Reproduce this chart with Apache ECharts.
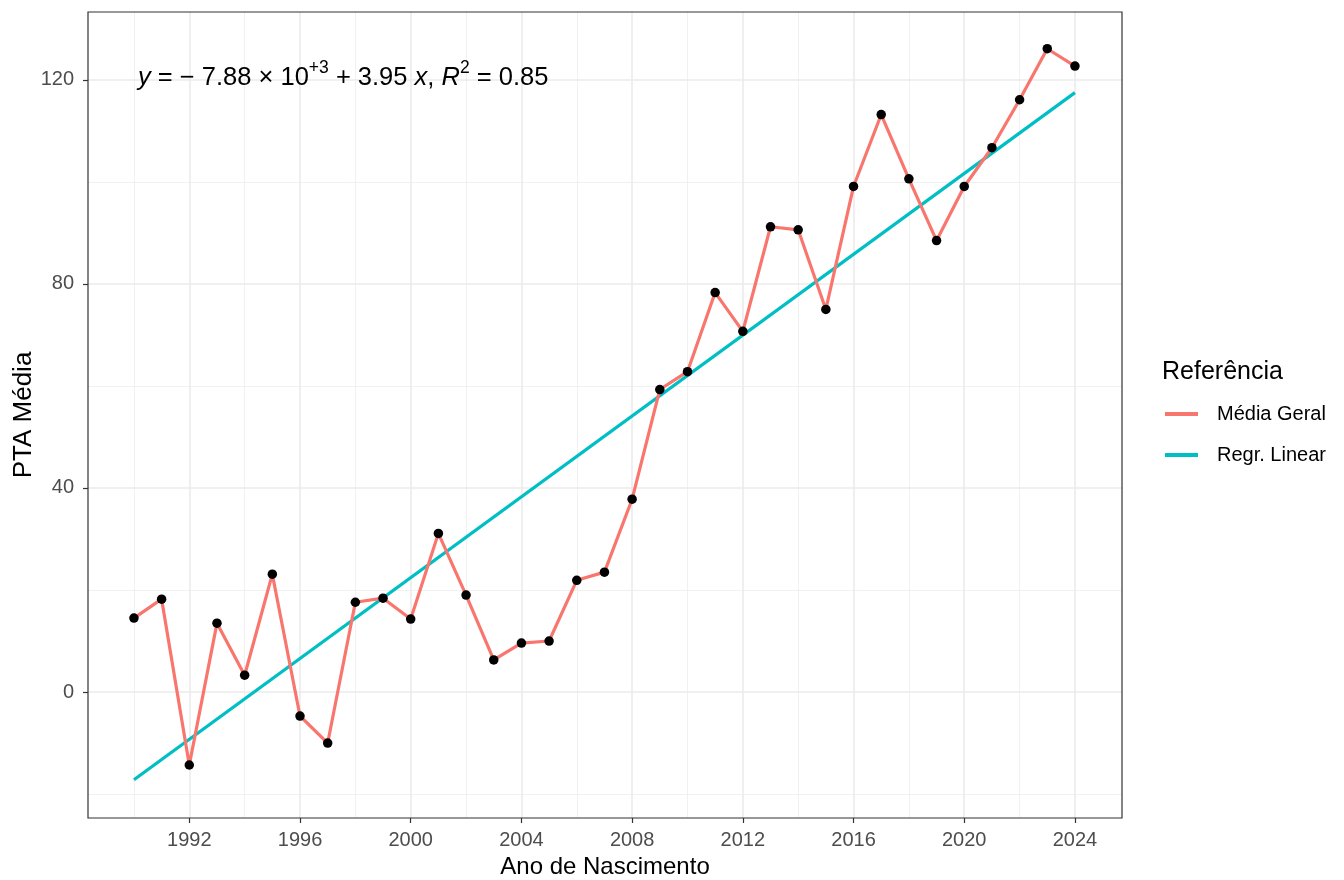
<!DOCTYPE html>
<html><head><meta charset="utf-8">
<script src="https://cdn.jsdelivr.net/npm/echarts@6/dist/echarts.min.js"></script>
<style>html,body{margin:0;padding:0;background:#fff}#c{width:1344px;height:880px}</style>
</head><body><div id="c"></div>
<script>
const years = [1990,1991,1992,1993,1994,1995,1996,1997,1998,1999,2000,2001,2002,2003,2004,2005,2006,2007,2008,2009,2010,2011,2012,2013,2014,2015,2016,2017,2018,2019,2020,2021,2022,2023,2024];
const mediaGeral = [14.5,18.2,-14.3,13.5,3.3,23.1,-4.7,-10.0,17.6,18.4,14.3,31.1,19.0,6.3,9.6,10.0,21.9,23.5,37.8,59.3,62.8,78.3,70.7,91.2,90.6,75.0,99.1,113.2,100.6,88.5,99.1,106.7,116.1,126.1,122.7];
const regX = [1990, 2024];
const regY = [-17.2, 117.5];
const xMajorTicks = [1992,1996,2000,2004,2008,2012,2016,2020,2024];
const xMinorTicks = [1990,1994,1998,2002,2006,2010,2014,2018,2022];
const yMajorTicks = [0,40,80,120];
const yMinorTicks = [-20,20,60,100];

const chart = echarts.init(document.getElementById('c'));
const gridLines = [];
xMinorTicks.forEach(v => gridLines.push({xAxis: v, lineStyle: {color: '#EDEDED', width: 0.8, type: 'solid'}}));
yMinorTicks.forEach(v => gridLines.push({yAxis: v, lineStyle: {color: '#EDEDED', width: 0.8, type: 'solid'}}));
xMajorTicks.forEach(v => gridLines.push({xAxis: v, lineStyle: {color: '#EBEBEB', width: 1.6, type: 'solid'}}));
yMajorTicks.forEach(v => gridLines.push({yAxis: v, lineStyle: {color: '#EBEBEB', width: 1.6, type: 'solid'}}));

const FONT = '"Liberation Sans", Arial, sans-serif';
chart.setOption({
  animation: false,
  grid: {left: 88, right: 222, top: 12, bottom: 62, containLabel: false, outerBoundsMode: 'none',
         show: true, borderColor: '#333333', borderWidth: 1.2, backgroundColor: 'transparent', z: 10},
  xAxis: {
    type: 'value', min: 1988.34, max: 2025.7,
    name: 'Ano de Nascimento', nameLocation: 'middle', nameGap: 36,
    nameTextStyle: {fontFamily: FONT, fontSize: 24, color: '#000'},
    axisLine: {show: false, onZero: false},
    axisTick: {show: true, length: 5, lineStyle: {color: '#333333', width: 1.2}, customValues: xMajorTicks},
    axisLabel: {customValues: xMajorTicks, fontFamily: FONT, fontSize: 20, color: '#4D4D4D', margin: 12, formatter: v => String(v)},
    splitLine: {show: false}
  },
  yAxis: {
    type: 'value', min: -24.69, max: 133.3,
    name: 'PTA Média', nameLocation: 'middle', nameGap: 51, nameRotate: 90, nameMoveOverlap: false,
    nameTextStyle: {fontFamily: FONT, fontSize: 26, color: '#000'},
    axisLine: {show: false, onZero: false},
    axisTick: {show: true, length: 5, lineStyle: {color: '#333333', width: 1.2}, customValues: yMajorTicks},
    axisLabel: {customValues: yMajorTicks, fontFamily: FONT, fontSize: 20, color: '#4D4D4D', margin: 14, formatter: v => String(v)},
    splitLine: {show: false}
  },
  legend: {
    data: ['Média Geral', 'Regr. Linear'],
    orient: 'vertical', left: 1165, top: 404, padding: 0, itemWidth: 33, itemHeight: 4, itemGap: 21,
    icon: 'rect',
    textStyle: {fontFamily: FONT, fontSize: 20, color: '#000', padding: [0, 0, 0, 14]}
  },
  graphic: [
    {type: 'text', left: 1162, top: 360, z: 100, style: {text: 'Referência', font: '25px ' + FONT, fill: '#000'}},
    {type: 'text', left: 138, top: 59, z: 100, style: {
      text: '{i|y}{n| = \u2212 7.88 \u00d7 10}{sup|+3}{n| + 3.95 }{i|x}{n|, }{i|R}{sup|2}{n| = 0.85}',
      rich: {
        n: {fontFamily: FONT, fontSize: 25.5, color: '#000', verticalAlign: 'bottom', lineHeight: 32},
        i: {fontFamily: FONT, fontSize: 25.5, fontStyle: 'italic', color: '#000', verticalAlign: 'bottom', lineHeight: 32},
        sup: {fontFamily: FONT, fontSize: 17.5, color: '#000', verticalAlign: 'top', lineHeight: 32}
      }
    }}
  ],
  series: [
    {type: 'line', name: '_grid', data: [], z: 0, silent: true,
     markLine: {silent: true, z: 0, symbol: ['none', 'none'], label: {show: false}, animation: false, data: gridLines}},
    {type: 'line', name: 'Regr. Linear', data: regX.map((x, i) => [x, regY[i]]), showSymbol: false, symbol: 'none',
     itemStyle: {color: '#00BFC4'}, lineStyle: {color: '#00BFC4', width: 3.2}, z: 2},
    {type: 'line', name: 'Média Geral', data: years.map((x, i) => [x, mediaGeral[i]]), showSymbol: false, symbol: 'none',
     itemStyle: {color: '#F8766D'}, lineStyle: {color: '#F8766D', width: 3.2}, z: 3},
    {type: 'scatter', name: '_pts', data: years.map((x, i) => [x, mediaGeral[i]]), symbolSize: 9.5,
     itemStyle: {color: '#000', opacity: 1}, z: 4}
  ]
});
</script>
</body></html>
